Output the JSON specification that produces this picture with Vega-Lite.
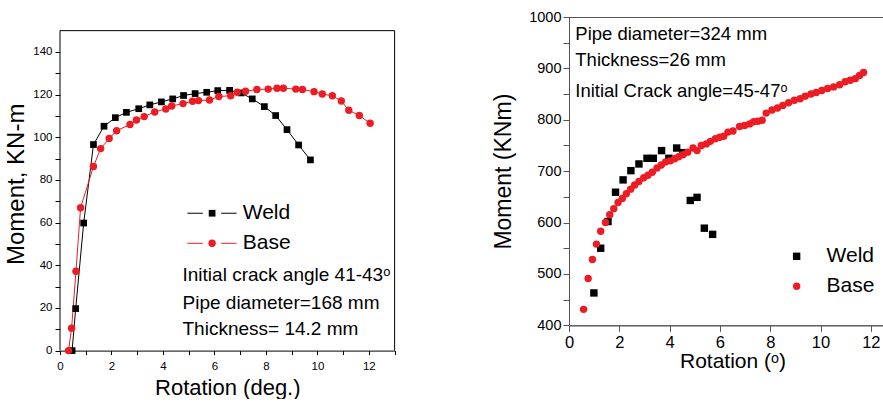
{
  "$schema": "https://vega.github.io/schema/vega-lite/v6.json",
  "padding": {"left": 4, "top": 8, "right": 0, "bottom": 0},
  "background": "white",
  "spacing": 95,
  "config": {
    "font": "Liberation Sans",
    "view": {"stroke": "black", "strokeWidth": 1},
    "axis": {"grid": false, "domainColor": "black", "tickColor": "black", "labelColor": "black", "titleColor": "black", "titleFontWeight": "normal", "labelFont": "Liberation Sans", "titleFont": "Liberation Sans", "labelOverlap": false, "labelFlush": false}
  },
  "datasets": {
    "left": [
      {"series": "Weld", "rot": 0.47, "moment": 0},
      {"series": "Weld", "rot": 0.61, "moment": 19.7},
      {"series": "Weld", "rot": 0.92, "moment": 59.8},
      {"series": "Weld", "rot": 1.30, "moment": 96.6},
      {"series": "Weld", "rot": 1.71, "moment": 105.2},
      {"series": "Weld", "rot": 2.15, "moment": 109.2},
      {"series": "Weld", "rot": 2.58, "moment": 111.7},
      {"series": "Weld", "rot": 3.06, "moment": 113.4},
      {"series": "Weld", "rot": 3.49, "moment": 115.2},
      {"series": "Weld", "rot": 3.94, "moment": 116.6},
      {"series": "Weld", "rot": 4.38, "moment": 118.0},
      {"series": "Weld", "rot": 4.80, "moment": 119.6},
      {"series": "Weld", "rot": 5.25, "moment": 120.5},
      {"series": "Weld", "rot": 5.70, "moment": 121.1},
      {"series": "Weld", "rot": 6.13, "moment": 121.9},
      {"series": "Weld", "rot": 6.59, "moment": 122.0},
      {"series": "Weld", "rot": 7.04, "moment": 120.8},
      {"series": "Weld", "rot": 7.47, "moment": 118.0},
      {"series": "Weld", "rot": 7.94, "moment": 114.4},
      {"series": "Weld", "rot": 8.38, "moment": 110.2},
      {"series": "Weld", "rot": 8.82, "moment": 103.6},
      {"series": "Weld", "rot": 9.27, "moment": 96.4},
      {"series": "Weld", "rot": 9.73, "moment": 89.4},
      {"series": "Base", "rot": 0.33, "moment": 0},
      {"series": "Base", "rot": 0.45, "moment": 10.5},
      {"series": "Base", "rot": 0.62, "moment": 37.2},
      {"series": "Base", "rot": 0.80, "moment": 67.0},
      {"series": "Base", "rot": 1.30, "moment": 86.3},
      {"series": "Base", "rot": 1.58, "moment": 94.7},
      {"series": "Base", "rot": 1.91, "moment": 99.4},
      {"series": "Base", "rot": 2.20, "moment": 103.1},
      {"series": "Base", "rot": 2.72, "moment": 106.0},
      {"series": "Base", "rot": 2.97, "moment": 108.1},
      {"series": "Base", "rot": 3.27, "moment": 109.7},
      {"series": "Base", "rot": 3.68, "moment": 111.9},
      {"series": "Base", "rot": 4.11, "moment": 113.3},
      {"series": "Base", "rot": 4.34, "moment": 114.7},
      {"series": "Base", "rot": 4.78, "moment": 115.8},
      {"series": "Base", "rot": 5.15, "moment": 116.9},
      {"series": "Base", "rot": 5.38, "moment": 117.2},
      {"series": "Base", "rot": 5.81, "moment": 117.5},
      {"series": "Base", "rot": 6.17, "moment": 119.1},
      {"series": "Base", "rot": 6.63, "moment": 119.5},
      {"series": "Base", "rot": 6.89, "moment": 121.1},
      {"series": "Base", "rot": 7.21, "moment": 121.6},
      {"series": "Base", "rot": 7.65, "moment": 122.4},
      {"series": "Base", "rot": 8.09, "moment": 122.6},
      {"series": "Base", "rot": 8.43, "moment": 123.0},
      {"series": "Base", "rot": 8.68, "moment": 123.0},
      {"series": "Base", "rot": 9.16, "moment": 122.6},
      {"series": "Base", "rot": 9.42, "moment": 122.4},
      {"series": "Base", "rot": 9.87, "moment": 121.4},
      {"series": "Base", "rot": 10.19, "moment": 120.3},
      {"series": "Base", "rot": 10.58, "moment": 119.5},
      {"series": "Base", "rot": 10.93, "moment": 117.0},
      {"series": "Base", "rot": 11.22, "moment": 112.7},
      {"series": "Base", "rot": 11.63, "moment": 110.2},
      {"series": "Base", "rot": 12.05, "moment": 106.6}
    ],
    "right": [
      {"series": "Weld", "rot": 0.99, "moment": 463},
      {"series": "Weld", "rot": 1.26, "moment": 550},
      {"series": "Weld", "rot": 1.55, "moment": 602},
      {"series": "Weld", "rot": 1.85, "moment": 659},
      {"series": "Weld", "rot": 2.15, "moment": 683},
      {"series": "Weld", "rot": 2.46, "moment": 701},
      {"series": "Weld", "rot": 2.78, "moment": 714},
      {"series": "Weld", "rot": 3.10, "moment": 725},
      {"series": "Weld", "rot": 3.35, "moment": 725},
      {"series": "Weld", "rot": 3.68, "moment": 740},
      {"series": "Weld", "rot": 3.97, "moment": 725},
      {"series": "Weld", "rot": 4.28, "moment": 745},
      {"series": "Weld", "rot": 4.53, "moment": 736},
      {"series": "Weld", "rot": 4.82, "moment": 643},
      {"series": "Weld", "rot": 5.09, "moment": 649},
      {"series": "Weld", "rot": 5.38, "moment": 589},
      {"series": "Weld", "rot": 5.71, "moment": 577},
      {"series": "Base", "rot": 0.58, "moment": 431},
      {"series": "Base", "rot": 0.76, "moment": 491},
      {"series": "Base", "rot": 0.93, "moment": 528},
      {"series": "Base", "rot": 1.09, "moment": 558},
      {"series": "Base", "rot": 1.26, "moment": 583},
      {"series": "Base", "rot": 1.45, "moment": 600},
      {"series": "Base", "rot": 1.62, "moment": 615},
      {"series": "Base", "rot": 1.78, "moment": 627},
      {"series": "Base", "rot": 1.95, "moment": 639},
      {"series": "Base", "rot": 2.12, "moment": 647},
      {"series": "Base", "rot": 2.28, "moment": 656},
      {"series": "Base", "rot": 2.45, "moment": 665},
      {"series": "Base", "rot": 2.61, "moment": 673},
      {"series": "Base", "rot": 2.78, "moment": 680},
      {"series": "Base", "rot": 2.97, "moment": 687},
      {"series": "Base", "rot": 3.14, "moment": 692},
      {"series": "Base", "rot": 3.31, "moment": 698},
      {"series": "Base", "rot": 3.50, "moment": 706},
      {"series": "Base", "rot": 3.67, "moment": 712},
      {"series": "Base", "rot": 3.84, "moment": 718},
      {"series": "Base", "rot": 4.03, "moment": 720},
      {"series": "Base", "rot": 4.20, "moment": 724},
      {"series": "Base", "rot": 4.36, "moment": 728},
      {"series": "Base", "rot": 4.53, "moment": 732},
      {"series": "Base", "rot": 4.72, "moment": 737},
      {"series": "Base", "rot": 4.93, "moment": 745},
      {"series": "Base", "rot": 5.09, "moment": 740},
      {"series": "Base", "rot": 5.26, "moment": 750},
      {"series": "Base", "rot": 5.46, "moment": 753},
      {"series": "Base", "rot": 5.62, "moment": 758},
      {"series": "Base", "rot": 5.82, "moment": 763},
      {"series": "Base", "rot": 5.99, "moment": 766},
      {"series": "Base", "rot": 6.15, "moment": 768},
      {"series": "Base", "rot": 6.32, "moment": 776},
      {"series": "Base", "rot": 6.52, "moment": 778},
      {"series": "Base", "rot": 6.78, "moment": 787},
      {"series": "Base", "rot": 6.98, "moment": 789},
      {"series": "Base", "rot": 7.18, "moment": 792},
      {"series": "Base", "rot": 7.34, "moment": 796},
      {"series": "Base", "rot": 7.51, "moment": 797},
      {"series": "Base", "rot": 7.68, "moment": 799},
      {"series": "Base", "rot": 7.84, "moment": 813},
      {"series": "Base", "rot": 8.07, "moment": 819},
      {"series": "Base", "rot": 8.29, "moment": 823},
      {"series": "Base", "rot": 8.50, "moment": 828},
      {"series": "Base", "rot": 8.73, "moment": 833},
      {"series": "Base", "rot": 8.96, "moment": 838},
      {"series": "Base", "rot": 9.19, "moment": 841},
      {"series": "Base", "rot": 9.39, "moment": 846},
      {"series": "Base", "rot": 9.62, "moment": 850},
      {"series": "Base", "rot": 9.83, "moment": 853},
      {"series": "Base", "rot": 10.05, "moment": 857},
      {"series": "Base", "rot": 10.28, "moment": 861},
      {"series": "Base", "rot": 10.52, "moment": 864},
      {"series": "Base", "rot": 10.76, "moment": 868},
      {"series": "Base", "rot": 10.98, "moment": 874},
      {"series": "Base", "rot": 11.18, "moment": 877},
      {"series": "Base", "rot": 11.38, "moment": 880},
      {"series": "Base", "rot": 11.55, "moment": 886},
      {"series": "Base", "rot": 11.71, "moment": 892}
    ]
  },
  "hconcat": [
    {
      "width": 334.6,
      "height": 333.6,
      "view": {"stroke": null},
      "data": {"name": "left"},
      "encoding": {
        "x": {"field": "rot", "type": "quantitative", "scale": {"domain": [0, 13], "nice": false, "zero": false},
          "axis": {"title": "Rotation (deg.)", "values": [0,1,2,3,4,5,6,7,8,9,10,11,12,13], "labelExpr": "datum.value % 2 === 0 ? datum.label : ''", "tickSize": 4, "labelPadding": 6, "labelFontSize": 11.5, "titleFontSize": 22, "titlePadding": 5}},
        "y": {"field": "moment", "type": "quantitative", "scale": {"domain": [0, 156.4], "nice": false},
          "axis": {"title": "Moment, KN-m", "domain": false, "values": [0,10,20,30,40,50,60,70,80,90,100,110,120,130,140], "labelExpr": "datum.value % 20 === 0 ? datum.label : ''", "tickSize": 5, "labelPadding": 3, "labelFontSize": 11.5, "titleFontSize": 24, "titlePadding": 4.5}}
      },
      "layer": [
        {
          "mark": {"type": "line", "strokeWidth": 1},
          "encoding": {
            "color": {"field": "series", "type": "nominal", "scale": {"domain": ["Weld", "Base"], "range": ["black", "#ec1c24"]}, "legend": null}
          }
        },
        {
          "mark": {"type": "point", "filled": true, "opacity": 1},
          "encoding": {
            "color": {"field": "series", "type": "nominal", "scale": {"domain": ["Weld", "Base"], "range": ["black", "#ec1c24"]}, "legend": null},
            "shape": {"field": "series", "type": "nominal", "scale": {"domain": ["Weld", "Base"], "range": ["square", "circle"]}, "legend": null},
            "size": {"field": "series", "type": "nominal", "scale": {"domain": ["Weld", "Base"], "range": [45, 55]}, "legend": null}
          }
        },
        {
          "transform": [{"filter": "datum.series === 'Weld' && datum.rot === 0.47"}],
          "mark": {"type": "rule", "color": "black", "strokeWidth": 1},
          "encoding": {"x": {"datum": 0}, "y": {"datum": 0}, "y2": {"datum": 150}}
        },
        {
          "transform": [{"filter": "datum.series === 'Weld' && datum.rot === 0.47"}],
          "mark": {"type": "rule", "color": "black", "strokeWidth": 1},
          "encoding": {"x": {"datum": 13}, "y": {"datum": 0}, "y2": {"datum": 150}}
        },
        {
          "transform": [{"filter": "datum.series === 'Weld' && datum.rot === 0.47"}],
          "mark": {"type": "rule", "color": "black", "strokeWidth": 1},
          "encoding": {"x": {"datum": 0}, "x2": {"datum": 13}, "y": {"datum": 150}}
        },
        {
          "transform": [{"filter": "datum.series === 'Weld' && datum.rot === 0.47"}],
          "mark": {"type": "rule", "color": "black", "strokeWidth": 1},
          "encoding": {"x": {"datum": 4.95}, "x2": {"datum": 5.55}, "y": {"datum": 64.4}}
        },
        {
          "transform": [{"filter": "datum.series === 'Weld' && datum.rot === 0.47"}],
          "mark": {"type": "rule", "color": "black", "strokeWidth": 1},
          "encoding": {"x": {"datum": 6.26}, "x2": {"datum": 6.86}, "y": {"datum": 64.4}}
        },
        {
          "transform": [{"filter": "datum.series === 'Weld' && datum.rot === 0.47"}],
          "mark": {"type": "point", "shape": "square", "filled": true, "color": "black", "opacity": 1, "size": 45},
          "encoding": {"x": {"datum": 5.91}, "y": {"datum": 64.4}}
        },
        {
          "transform": [{"filter": "datum.series === 'Weld' && datum.rot === 0.47"}],
          "mark": {"type": "text", "text": "Weld", "align": "left", "baseline": "middle", "fontSize": 21, "color": "black"},
          "encoding": {"x": {"datum": 7.1}, "y": {"datum": 64.4}}
        },
        {
          "transform": [{"filter": "datum.series === 'Base' && datum.rot === 0.33"}],
          "mark": {"type": "rule", "color": "#ec1c24", "strokeWidth": 1},
          "encoding": {"x": {"datum": 4.95}, "x2": {"datum": 5.55}, "y": {"datum": 50.3}}
        },
        {
          "transform": [{"filter": "datum.series === 'Base' && datum.rot === 0.33"}],
          "mark": {"type": "rule", "color": "#ec1c24", "strokeWidth": 1},
          "encoding": {"x": {"datum": 6.26}, "x2": {"datum": 6.86}, "y": {"datum": 50.3}}
        },
        {
          "transform": [{"filter": "datum.series === 'Base' && datum.rot === 0.33"}],
          "mark": {"type": "point", "shape": "circle", "filled": true, "color": "#ec1c24", "opacity": 1, "size": 55},
          "encoding": {"x": {"datum": 5.91}, "y": {"datum": 50.3}}
        },
        {
          "transform": [{"filter": "datum.series === 'Base' && datum.rot === 0.33"}],
          "mark": {"type": "text", "text": "Base", "align": "left", "baseline": "middle", "fontSize": 21, "color": "black"},
          "encoding": {"x": {"datum": 7.1}, "y": {"datum": 50.3}}
        },
        {
          "transform": [{"filter": "datum.series === 'Weld' && datum.rot === 0.47"}],
          "mark": {"type": "text", "text": "Initial crack angle 41-43ᵒ", "align": "left", "baseline": "alphabetic", "fontSize": 19, "color": "black"},
          "encoding": {"x": {"datum": 4.76}, "y": {"datum": 32.5}}
        },
        {
          "transform": [{"filter": "datum.series === 'Weld' && datum.rot === 0.47"}],
          "mark": {"type": "text", "text": "Pipe diameter=168 mm", "align": "left", "baseline": "alphabetic", "fontSize": 19, "color": "black"},
          "encoding": {"x": {"datum": 4.76}, "y": {"datum": 19.4}}
        },
        {
          "transform": [{"filter": "datum.series === 'Weld' && datum.rot === 0.47"}],
          "mark": {"type": "text", "text": "Thickness= 14.2 mm", "align": "left", "baseline": "alphabetic", "fontSize": 19, "color": "black"},
          "encoding": {"x": {"datum": 4.76}, "y": {"datum": 7.5}}
        }
      ]
    },
    {
      "width": 327,
      "height": 308.3,
      "view": {"stroke": "#555"},
      "data": {"name": "right"},
      "encoding": {
        "x": {"field": "rot", "type": "quantitative", "scale": {"domain": [0, 13], "nice": false, "zero": false},
          "axis": {"title": "Rotation (ᵒ)", "values": [0,2,4,6,8,10,12], "tickSize": 6, "labelPadding": 3, "labelFontSize": 16.5, "titleFontSize": 21, "titlePadding": 0, "domainColor": "#555", "tickColor": "#555"}},
        "y": {"field": "moment", "type": "quantitative", "scale": {"domain": [400, 1000], "nice": false, "zero": false},
          "axis": {"title": "Moment (KNm)", "format": "d", "values": [400,450,500,550,600,650,700,750,800,850,900,950,1000], "labelExpr": "datum.value % 100 === 0 ? datum.label : ''", "tickSize": 6, "labelPadding": 2, "labelFontSize": 14.5, "titleFontSize": 23, "titlePadding": 13.6, "domainColor": "#555", "tickColor": "#555"}}
      },
      "layer": [
        {
          "mark": {"type": "point", "filled": true, "opacity": 1, "size": 55},
          "encoding": {
            "color": {"field": "series", "type": "nominal", "scale": {"domain": ["Weld", "Base"], "range": ["black", "#ec1c24"]}, "legend": null},
            "shape": {"field": "series", "type": "nominal", "scale": {"domain": ["Weld", "Base"], "range": ["square", "circle"]}, "legend": null}
          }
        },
        {
          "transform": [{"filter": "datum.series === 'Weld' && datum.rot === 0.99"}],
          "mark": {"type": "point", "shape": "square", "filled": true, "color": "black", "opacity": 1, "size": 55},
          "encoding": {"x": {"datum": 9.05}, "y": {"datum": 534.3}}
        },
        {
          "transform": [{"filter": "datum.series === 'Weld' && datum.rot === 0.99"}],
          "mark": {"type": "text", "text": "Weld", "align": "left", "baseline": "middle", "fontSize": 21, "color": "black"},
          "encoding": {"x": {"datum": 10.24}, "y": {"datum": 534.3}}
        },
        {
          "transform": [{"filter": "datum.series === 'Base' && datum.rot === 0.58"}],
          "mark": {"type": "point", "shape": "circle", "filled": true, "color": "#ec1c24", "opacity": 1, "size": 55},
          "encoding": {"x": {"datum": 9.05}, "y": {"datum": 475.9}}
        },
        {
          "transform": [{"filter": "datum.series === 'Base' && datum.rot === 0.58"}],
          "mark": {"type": "text", "text": "Base", "align": "left", "baseline": "middle", "fontSize": 21, "color": "black"},
          "encoding": {"x": {"datum": 10.24}, "y": {"datum": 475.9}}
        },
        {
          "transform": [{"filter": "datum.series === 'Weld' && datum.rot === 0.99"}],
          "mark": {"type": "text", "text": "Pipe diameter=324 mm", "align": "left", "baseline": "alphabetic", "fontSize": 18.5, "color": "black"},
          "encoding": {"x": {"datum": 0.25}, "y": {"datum": 955}}
        },
        {
          "transform": [{"filter": "datum.series === 'Weld' && datum.rot === 0.99"}],
          "mark": {"type": "text", "text": "Thickness=26 mm", "align": "left", "baseline": "alphabetic", "fontSize": 18.5, "color": "black"},
          "encoding": {"x": {"datum": 0.25}, "y": {"datum": 905.5}}
        },
        {
          "transform": [{"filter": "datum.series === 'Weld' && datum.rot === 0.99"}],
          "mark": {"type": "text", "text": "Initial Crack angle=45-47ᵒ", "align": "left", "baseline": "alphabetic", "fontSize": 18.5, "color": "black"},
          "encoding": {"x": {"datum": 0.25}, "y": {"datum": 844.3}}
        }
      ]
    }
  ]
}
